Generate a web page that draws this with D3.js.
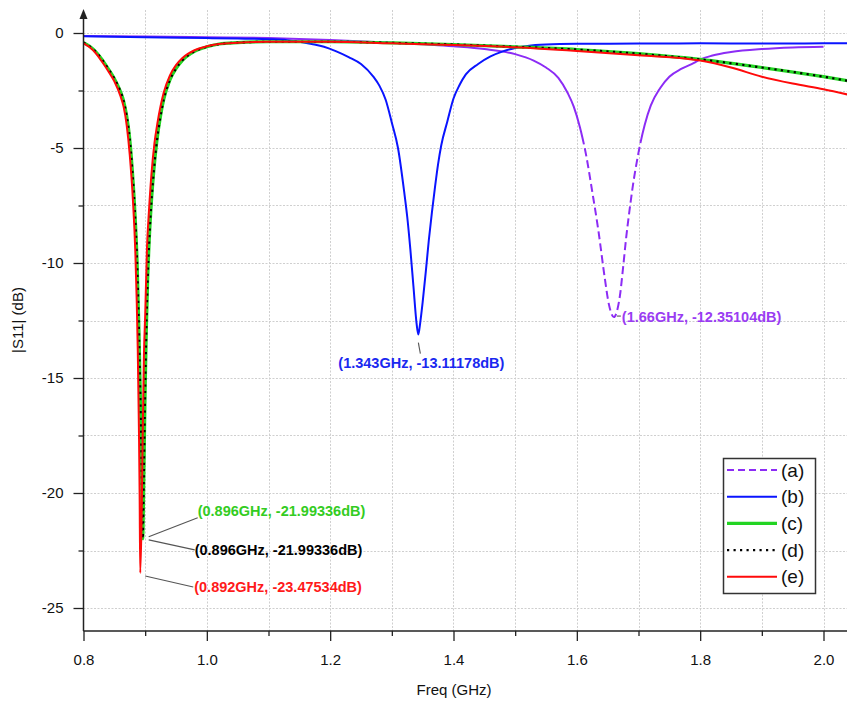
<!DOCTYPE html>
<html><head><meta charset="utf-8">
<script src="https://cdn.jsdelivr.net/npm/d3@7"></script>
<style>body{margin:0;background:#fff}svg{display:block}text{font-family:"Liberation Sans",Arial,sans-serif}</style>
</head><body><svg id="c" width="847" height="704"></svg>
<script>
// ---- data (frequency in GHz, |S11| in dB) ----
const freqA=[0.80,0.90,1.00,1.10,1.20,1.30,1.40,1.45,1.50,1.53,1.55,1.57,1.585,1.595,1.605,1.615,1.625,1.635,1.645,1.652,1.66,1.665,1.67,1.675,1.68,1.685,1.69,1.70,1.71,1.72,1.735,1.75,1.77,1.79,1.80,1.82,1.85,1.90,1.95,2.00];
const dbA  =[-0.13,-0.15,-0.18,-0.22,-0.30,-0.42,-0.58,-0.70,-0.92,-1.20,-1.50,-1.95,-2.60,-3.20,-4.10,-5.30,-6.90,-8.60,-10.60,-11.80,-12.35,-12.10,-11.40,-10.20,-8.90,-7.80,-6.80,-5.20,-4.00,-3.15,-2.40,-1.90,-1.55,-1.30,-1.15,-0.98,-0.83,-0.70,-0.63,-0.60];

const freqB=[0.80,0.90,1.00,1.05,1.10,1.13,1.15,1.17,1.19,1.21,1.23,1.25,1.27,1.28,1.29,1.30,1.31,1.32,1.325,1.33,1.335,1.34,1.343,1.346,1.35,1.355,1.36,1.365,1.37,1.375,1.38,1.39,1.40,1.41,1.42,1.44,1.46,1.48,1.50,1.52,1.55,1.60,1.70,1.80,1.90,2.00,2.04];
const dbB  =[-0.14,-0.19,-0.22,-0.24,-0.27,-0.31,-0.38,-0.48,-0.60,-0.80,-1.05,-1.35,-1.90,-2.30,-2.90,-3.90,-5.00,-6.90,-8.00,-9.40,-11.00,-12.60,-13.11,-12.60,-11.70,-10.40,-9.00,-7.80,-6.70,-5.70,-4.90,-3.85,-2.85,-2.25,-1.80,-1.35,-1.02,-0.80,-0.65,-0.56,-0.50,-0.47,-0.46,-0.45,-0.46,-0.45,-0.45];

const freqC=[0.80,0.81,0.82,0.83,0.84,0.85,0.86,0.865,0.87,0.875,0.879,0.883,0.887,0.890,0.892,0.894,0.896,0.898,0.900,0.902,0.904,0.907,0.910,0.914,0.919,0.925,0.93,0.94,0.95,0.96,0.98,1.00,1.02,1.05,1.10,1.20,1.30,1.40,1.50,1.60,1.70,1.80,1.90,2.00,2.04];
const dbC  =[-0.42,-0.58,-0.82,-1.15,-1.55,-1.98,-2.55,-2.95,-3.60,-4.60,-5.90,-7.60,-10.00,-13.00,-15.50,-18.50,-21.99,-19.00,-15.50,-12.80,-10.80,-8.80,-7.40,-6.00,-4.70,-3.60,-2.90,-2.05,-1.55,-1.20,-0.80,-0.60,-0.48,-0.42,-0.38,-0.38,-0.43,-0.50,-0.60,-0.72,-0.90,-1.15,-1.50,-1.90,-2.08];

const freqD=[0.80,0.81,0.82,0.83,0.84,0.85,0.86,0.865,0.87,0.875,0.879,0.883,0.887,0.890,0.892,0.894,0.896,0.898,0.900,0.902,0.904,0.907,0.910,0.914,0.919,0.925,0.93,0.94,0.95,0.96,0.98,1.00,1.02,1.05,1.10,1.20,1.30,1.40,1.50,1.60,1.70,1.80,1.90,2.00,2.04];
const dbD  =[-0.42,-0.58,-0.82,-1.15,-1.55,-1.98,-2.55,-2.95,-3.60,-4.60,-5.90,-7.60,-10.00,-13.00,-15.50,-18.50,-21.99,-19.00,-15.50,-12.80,-10.80,-8.80,-7.40,-6.00,-4.70,-3.60,-2.90,-2.05,-1.55,-1.20,-0.80,-0.60,-0.48,-0.42,-0.38,-0.38,-0.43,-0.50,-0.60,-0.72,-0.90,-1.15,-1.50,-1.90,-2.08];

const freqE=[0.80,0.81,0.82,0.83,0.84,0.85,0.86,0.865,0.87,0.875,0.880,0.884,0.888,0.890,0.891,0.892,0.894,0.896,0.898,0.900,0.903,0.906,0.910,0.915,0.920,0.93,0.94,0.95,0.96,0.98,1.00,1.02,1.05,1.10,1.20,1.30,1.40,1.50,1.60,1.70,1.80,1.85,1.90,1.95,2.00,2.04];
const dbE  =[-0.45,-0.62,-0.88,-1.25,-1.65,-2.10,-2.75,-3.20,-4.00,-5.30,-7.20,-9.50,-13.80,-17.50,-20.00,-23.47534,-21.50,-17.50,-14.00,-12.30,-9.30,-7.80,-6.20,-4.80,-3.90,-2.60,-1.85,-1.40,-1.10,-0.75,-0.58,-0.48,-0.42,-0.38,-0.38,-0.45,-0.52,-0.62,-0.78,-0.97,-1.20,-1.50,-1.90,-2.20,-2.45,-2.68];

const seriesNames=["(a)","(b)","(c)","(d)","(e)"];
const xTicks=[0.8,1.0,1.2,1.4,1.6,1.8,2.0];
const xMinor=[0.9,1.1,1.3,1.5,1.7,1.9];
const yTicks=[0,-5,-10,-15,-20,-25];
const yMinor=[-2.5,-7.5,-12.5,-17.5,-22.5];
const annFreq=[1.66,1.343,0.896,0.896,0.892];
const annDb=[-12.35104,-13.11178,-21.99336,-21.99336,-23.47534];
const annText=["(1.66GHz, -12.35104dB)","(1.343GHz, -13.11178dB)","(0.896GHz, -21.99336dB)","(0.896GHz, -21.99336dB)","(0.892GHz, -23.47534dB)"];

// ---- layout ----
const svg=d3.select("#c");
const L=83.5, R=847, T=10, B=631;
const x=d3.scaleLinear().domain([0.8,2.0]).range([L,823.5]);
const y=d3.scaleLinear().domain([-26,1]).range([B,T]);

svg.append("defs").append("clipPath").attr("id","clip")
  .append("rect").attr("x",L).attr("y",T).attr("width",R-L).attr("height",B-T);

// grid
const gridV=d3.range(9,21).map(d=>d/10);
const gridH=d3.range(0,11).map(d=>-d*2.5);
const g=svg.append("g").attr("stroke","#cfcfcf").attr("stroke-width",1).attr("stroke-dasharray","2,1.5");
g.selectAll(".gv").data(gridV).join("line").attr("x1",d=>Math.round(x(d))+0.5).attr("x2",d=>Math.round(x(d))+0.5).attr("y1",T).attr("y2",B);
g.selectAll(".gh").data(gridH).join("line").attr("y1",d=>Math.round(y(d))+0.5).attr("y2",d=>Math.round(y(d))+0.5).attr("x1",L).attr("x2",R);

// curves
const colors={a:"#8c2cf5",b:"#0a14ff",c:"#22d422",d:"#000000",e:"#ff0a0a"};
const line=d3.line().x(d=>x(d[0])).y(d=>y(d[1])).curve(d3.curveMonotoneX);
const zip=(f,v)=>f.map((d,i)=>[d,v[i]]);
const cg=svg.append("g").attr("clip-path","url(#clip)").attr("fill","none").attr("stroke-linejoin","round");

// (a): Origin renders the flat parts solid and the steep dip visibly dashed
const pathA=cg.append("path").attr("d",line(zip(freqA,dbA))).attr("stroke",colors.a).attr("stroke-width",2);
{
  const node=pathA.node(), total=node.getTotalLength(), yLim=y(-4.5);
  let s0=null,s1=null;
  for(let s=0;s<=total;s+=0.5){const p=node.getPointAtLength(s); if(p.y>yLim){ if(s0===null)s0=s; s1=s; }}
  const da=[s0,0]; let s=s0;
  while(s+12<s1){da.push(8,4); s+=12;}
  da.push(total,0);
  pathA.attr("stroke-dasharray",da.join(","));
}

cg.append("path").attr("d",line(zip(freqB,dbB))).attr("stroke",colors.b).attr("stroke-width",2);
cg.append("path").attr("d",line(zip(freqC,dbC))).attr("stroke",colors.c).attr("stroke-width",3.2);
cg.append("path").attr("d",line(zip(freqD,dbD))).attr("stroke",colors.d).attr("stroke-width",2.2).attr("stroke-dasharray","2.2,4.3");
cg.append("path").attr("d",line(zip(freqE,dbE))).attr("stroke",colors.e).attr("stroke-width",2);

// axes
const axCol="#222";
const xa=svg.append("g").attr("transform",`translate(0,${B})`)
  .call(d3.axisBottom(x).tickValues(xTicks).tickFormat(d3.format(".1f")).tickSize(10).tickPadding(13));
xa.select(".domain").remove();
const xm=svg.append("g").attr("transform",`translate(0,${B})`).call(d3.axisBottom(x).tickValues(xMinor).tickFormat("").tickSize(5));
xm.select(".domain").remove();
const ya=svg.append("g").attr("transform",`translate(${L},0)`)
  .call(d3.axisLeft(y).tickValues(yTicks).tickFormat(d=>String(d)).tickSize(10).tickPadding(10));
ya.select(".domain").remove();
const ym=svg.append("g").attr("transform",`translate(${L},0)`).call(d3.axisLeft(y).tickValues(yMinor).tickFormat("").tickSize(5));
ym.select(".domain").remove();
svg.selectAll(".tick line").attr("stroke",axCol).attr("stroke-width",1.3);
svg.selectAll(".tick text").attr("font-size",15).attr("fill","#111").attr("font-family","'Liberation Sans',Arial,sans-serif");

svg.append("line").attr("x1",L).attr("x2",R).attr("y1",B).attr("y2",B).attr("stroke",axCol).attr("stroke-width",1.5);
svg.append("line").attr("x1",L).attr("x2",L).attr("y1",B).attr("y2",T+6).attr("stroke",axCol).attr("stroke-width",1.5);
svg.append("path").attr("d",`M${L},${T-1} L${L-4},${T+9} L${L+4},${T+9} Z`).attr("fill",axCol);

// axis titles
svg.append("text").attr("x",(L+823.5)/2+0.5).attr("y",695).attr("text-anchor","middle").attr("font-size",15).attr("fill","#111").text("Freq (GHz)");
svg.append("text").attr("transform","translate(23,320) rotate(-90)").attr("text-anchor","middle").attr("font-size",15).attr("fill","#111").text("|S11| (dB)");

// annotations
const annCol=["#9a3cf2","#1a28f0","#33cc22","#000000","#ff1a1a"];
const annOff=[ // leader start, leader end, text anchor position (pixel offsets from the marked point)
  {l:[[3,-1],[7,-1]], t:[8,0], anchor:"start"},
  {l:[[0,8],[2,19]], t:[3,28], anchor:"middle"},
  {l:[[6,-2],[55,-21]], t:[55,-28], anchor:"start"},
  {l:[[6,1],[52,11]], t:[52,11], anchor:"start"},
  {l:[[5,3],[53,14]], t:[54,14], anchor:"start"}
];
annFreq.forEach((f,i)=>{
  const px=x(f), py=y(annDb[i]), o=annOff[i];
  svg.append("line").attr("x1",px+o.l[0][0]).attr("y1",py+o.l[0][1]).attr("x2",px+o.l[1][0]).attr("y2",py+o.l[1][1])
    .attr("stroke","#555").attr("stroke-width",1.1);
  svg.append("text").attr("x",px+o.t[0]).attr("y",py+o.t[1]).attr("dy","0.35em").attr("text-anchor",o.anchor)
    .attr("font-size",14.5).attr("font-weight","bold").attr("fill",annCol[i]).text(annText[i]);
});

// legend
const lg=svg.append("g");
lg.append("rect").attr("x",723.5).attr("y",458.5).attr("width",92).attr("height",135).attr("fill","#fff").attr("stroke","#333").attr("stroke-width",1.5);
const lstyle=[
  {c:colors.a,w:2,da:"7,4"},{c:colors.b,w:2,da:null},{c:colors.c,w:3.2,da:null},{c:colors.d,w:2.2,da:"2.2,4.3"},{c:colors.e,w:2,da:null}];
seriesNames.forEach((n,i)=>{
  const yy=470+i*26.7;
  const ln=lg.append("line").attr("x1",727).attr("x2",777).attr("y1",yy).attr("y2",yy).attr("stroke",lstyle[i].c).attr("stroke-width",lstyle[i].w);
  if(lstyle[i].da) ln.attr("stroke-dasharray",lstyle[i].da);
  lg.append("text").attr("x",781).attr("y",yy).attr("dy","0.35em").attr("font-size",19).attr("fill","#111").text(n);
});
</script></body></html>
